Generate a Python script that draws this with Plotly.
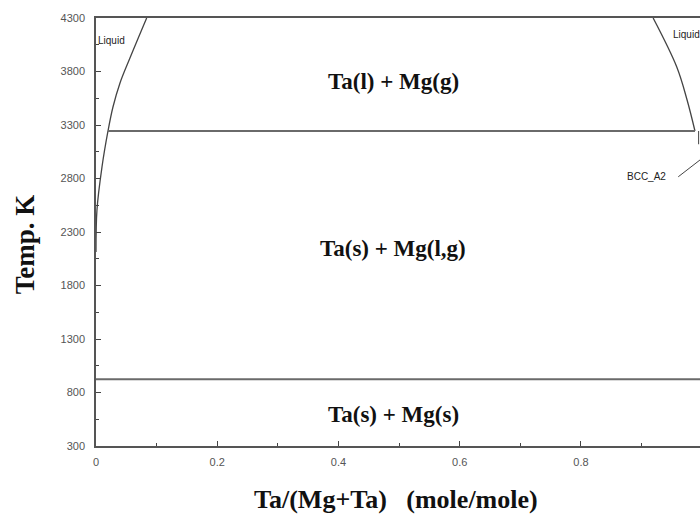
import plotly.graph_objects as go

# Phase boundary data (Ta mole fraction, Temperature K)
left_liquidus_x = [0.0, 0.0016, 0.0099, 0.0198, 0.028, 0.0396, 0.056, 0.0836]
left_liquidus_T = [2113, 2506, 2908, 3244, 3468, 3693, 3926, 4300]
right_liquidus_x = [0.988, 0.975, 0.958, 0.919]
right_liquidus_T = [3244, 3534, 3842, 4300]
upper_iso_x = [0.0198, 0.988]
upper_iso_T = [3244, 3244]
lower_iso_x = [0.0, 1.0]
lower_iso_T = [923, 923]
bcc_x = [0.994, 0.994]
bcc_T = [3244, 3120]
bcc_leader_x = [0.9604, 0.9967]
bcc_leader_T = [2816, 2975]

phase_labels = ["Ta(l) + Mg(g)", "Ta(s) + Mg(l,g)", "Ta(s) + Mg(s)"]
phase_label_x = [0.49, 0.49, 0.49]
phase_label_T = [3702, 2150, 599]

y_ticks = [300, 800, 1300, 1800, 2300, 2800, 3300, 3800, 4300]
x_ticks = [0, 0.2, 0.4, 0.6, 0.8]
x_tick_text = ["0", "0.2", "0.4", "0.6", "0.8"]

fig = go.Figure()
curve = dict(color="#444444", width=1.3)
iso = dict(color="#6a6a6a", width=2)
fig.add_trace(go.Scatter(x=left_liquidus_x, y=left_liquidus_T, mode="lines", line=dict(curve, shape="spline"), hoverinfo="skip"))
fig.add_trace(go.Scatter(x=right_liquidus_x, y=right_liquidus_T, mode="lines", line=dict(curve, shape="spline"), hoverinfo="skip"))
fig.add_trace(go.Scatter(x=upper_iso_x, y=upper_iso_T, mode="lines", line=iso, hoverinfo="skip"))
fig.add_trace(go.Scatter(x=lower_iso_x, y=lower_iso_T, mode="lines", line=iso, hoverinfo="skip"))
fig.add_trace(go.Scatter(x=bcc_x, y=bcc_T, mode="lines", line=dict(color="#444444", width=1), hoverinfo="skip"))
fig.add_trace(go.Scatter(x=bcc_leader_x, y=bcc_leader_T, mode="lines", line=dict(color="#444444", width=1), hoverinfo="skip"))

serif = "Times New Roman, Liberation Serif, serif"
for t, xx, yy in zip(phase_labels, phase_label_x, phase_label_T):
    fig.add_annotation(x=xx, y=yy, text="<b>" + t + "</b>", showarrow=False,
                       font=dict(family=serif, size=23, color="#111111"))

small = dict(family="Arial, Liberation Sans, sans-serif", size=10, color="#222222")
fig.add_annotation(x=0.0, y=4094, text="Liquid", showarrow=False, xanchor="left", font=small)
fig.add_annotation(x=0.948, y=4150, text="Liquid", showarrow=False, xanchor="left", font=small)
fig.add_annotation(x=0.908, y=2815, text="BCC_A2", showarrow=False, font=small)

fig.add_annotation(xref="paper", yref="paper", x=0.497, y=-0.126, yanchor="middle", xanchor="center",
                   text="<b>Ta/(Mg+Ta)&nbsp;&nbsp; (mole/mole)</b>", showarrow=False,
                   font=dict(family=serif, size=26, color="#111111"))
fig.add_annotation(xref="paper", yref="paper", x=-0.117, y=0.472, textangle=-90,
                   xanchor="center", yanchor="middle",
                   text="<b>Temp. K</b>", showarrow=False,
                   font=dict(family=serif, size=27, color="#111111"))

tickfont = dict(family="Arial, Liberation Sans, sans-serif", size=11, color="#555555")
fig.update_xaxes(range=[0, 0.9963], tickvals=x_ticks, ticktext=x_tick_text, ticks="inside",
                 ticklen=5, tickcolor="#444", showline=True, linecolor="#555", linewidth=1.5,
                 mirror=True, showgrid=False, zeroline=False, tickfont=tickfont, ticklabelstandoff=5,
                 minor=dict(ticks="inside", ticklen=3, dtick=0.1, tick0=0, tickcolor="#444"))
fig.update_yaxes(range=[300, 4300], tickvals=y_ticks, ticks="inside", ticklen=5, tickcolor="#444",
                 showline=True, linecolor="#555", linewidth=1.5, mirror=False, showgrid=False,
                 zeroline=False, tickfont=tickfont, ticklabelstandoff=7,
                 minor=dict(ticks="inside", ticklen=3, dtick=250, tick0=300, tickcolor="#444"))
fig.update_layout(width=700, height=517, margin=dict(l=96, r=0, t=18, b=71),
                  plot_bgcolor="white", paper_bgcolor="white", showlegend=False)
fig.write_html("out.html", config={"displayModeBar": False},
               post_script="document.body.style.margin='0';document.body.style.overflow='hidden';")
